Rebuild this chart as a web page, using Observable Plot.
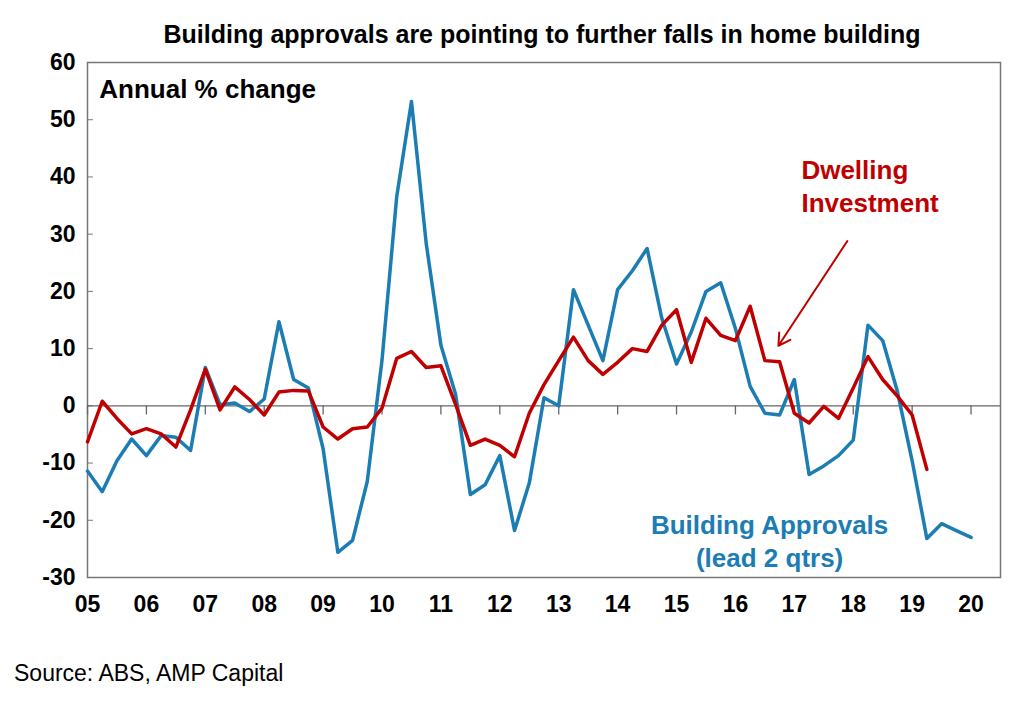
<!DOCTYPE html>
<html><head><meta charset="utf-8">
<script src="https://cdn.jsdelivr.net/npm/d3@7"></script>
<script src="https://cdn.jsdelivr.net/npm/@observablehq/plot@0.6"></script>
<style>
body{margin:0;background:#fff;font-family:"Liberation Sans",Arial,sans-serif;}
#title{height:48px;line-height:68px;text-align:center;font-weight:bold;font-size:25px;padding-left:60px;white-space:nowrap;}
#src{font-size:23px;padding-left:14px;margin-top:28px;}
</style></head><body>
<div id="title">Building approvals are pointing to further falls in home building</div>
<div id="chart"></div>
<div id="src">Source: ABS, AMP Capital</div>
<script>
const startYear = 5;
const approvals = [-11.4,-15,-9.6,-5.8,-8.7,-5.2,-5.5,-7.8,6.7,0.2,0.5,-1,1.2,14.7,4.6,3.1,-7.5,-25.6,-23.5,-13.2,8,36.6,53.2,28.4,10.6,2,-15.5,-13.8,-8.7,-21.8,-13.5,1.4,0,20.3,14.1,7.9,20.3,23.6,27.5,15.3,7.3,12.9,20,21.5,13.5,3.4,-1.3,-1.6,4.6,-12,-10.5,-8.7,-6,14.1,11.4,2.5,-9.6,-23.2,-20.6,-21.8,-23];
const dwelling = [-6.3,0.8,-2.2,-4.9,-4,-4.9,-7.2,-0.7,6.4,-0.7,3.3,1.1,-1.6,2.4,2.7,2.6,-3.7,-5.8,-4,-3.7,-0.4,8.3,9.5,6.7,7,0.2,-6.9,-5.8,-6.9,-8.9,-1.3,3.7,7.9,12,7.9,5.5,7.6,10,9.5,14.1,16.8,7.6,15.3,12.3,11.4,17.4,7.9,7.7,-1.3,-3,-0.1,-2.2,3.1,8.6,4.6,1.7,-1.6,-11.1];
const yearTicks = d3.range(5,21);
const yTicks = d3.range(-30,61,10);
const fmtYear = d => String(d).padStart(2,"0");
const ba = approvals.map((v,i)=>({x:startYear+i/4,y:v}));
const dw = dwelling.map((v,i)=>({x:startYear+i/4,y:v}));
const blue="#1b7db3", red="#c00000";
const chart = Plot.plot({
  width:1024, height:584, marginTop:14, marginBottom:55, marginLeft:87, marginRight:24,
  x:{domain:[5,20.5], ticks:yearTicks, tickFormat:fmtYear, tickSize:0, tickPadding:18, label:null},
  y:{domain:[-30,60], ticks:yTicks, tickFormat:d=>String(d), tickSize:0, tickPadding:12, label:null},
  style:{fontFamily:"Liberation Sans, Arial, sans-serif", fontSize:"23px", fontWeight:"bold", color:"#000", overflow:"visible"},
  marks:[
    Plot.frame({stroke:"#777", strokeWidth:1.5}),
    Plot.ruleY(yTicks,{x1:5,x2:5.1,stroke:"#777"}),
    Plot.ruleY([0],{stroke:"#666",strokeWidth:1.3}),
    Plot.ruleX(yearTicks,{y1:0,y2:-1.6,stroke:"#666",strokeWidth:1.3}),
    Plot.line(ba,{x:"x",y:"y",stroke:blue,strokeWidth:3.5}),
    Plot.line(dw,{x:"x",y:"y",stroke:red,strokeWidth:3.5}),
    Plot.arrow([{x1:17.9,y1:28.8,x2:16.73,y2:10.5}],{x1:"x1",y1:"y1",x2:"x2",y2:"y2",stroke:red,strokeWidth:2,headLength:10}),
    Plot.text(["Annual % change"],{x:5.2,y:55.3,text:d=>d,textAnchor:"start",fontSize:26,fontWeight:"bold",fill:"#000"}),
    Plot.text(["Dwelling","Investment"],{x:17.12,y:(d,i)=>[41.1,35.4][i],text:d=>d,textAnchor:"start",fontSize:26,fontWeight:"bold",fill:red}),
    Plot.text(["Building Approvals","(lead 2 qtrs)"],{x:16.58,y:(d,i)=>[-21,-26.7][i],text:d=>d,textAnchor:"middle",fontSize:26,fontWeight:"bold",fill:blue})
  ]
});
document.getElementById("chart").append(chart);
</script>
</body></html>
